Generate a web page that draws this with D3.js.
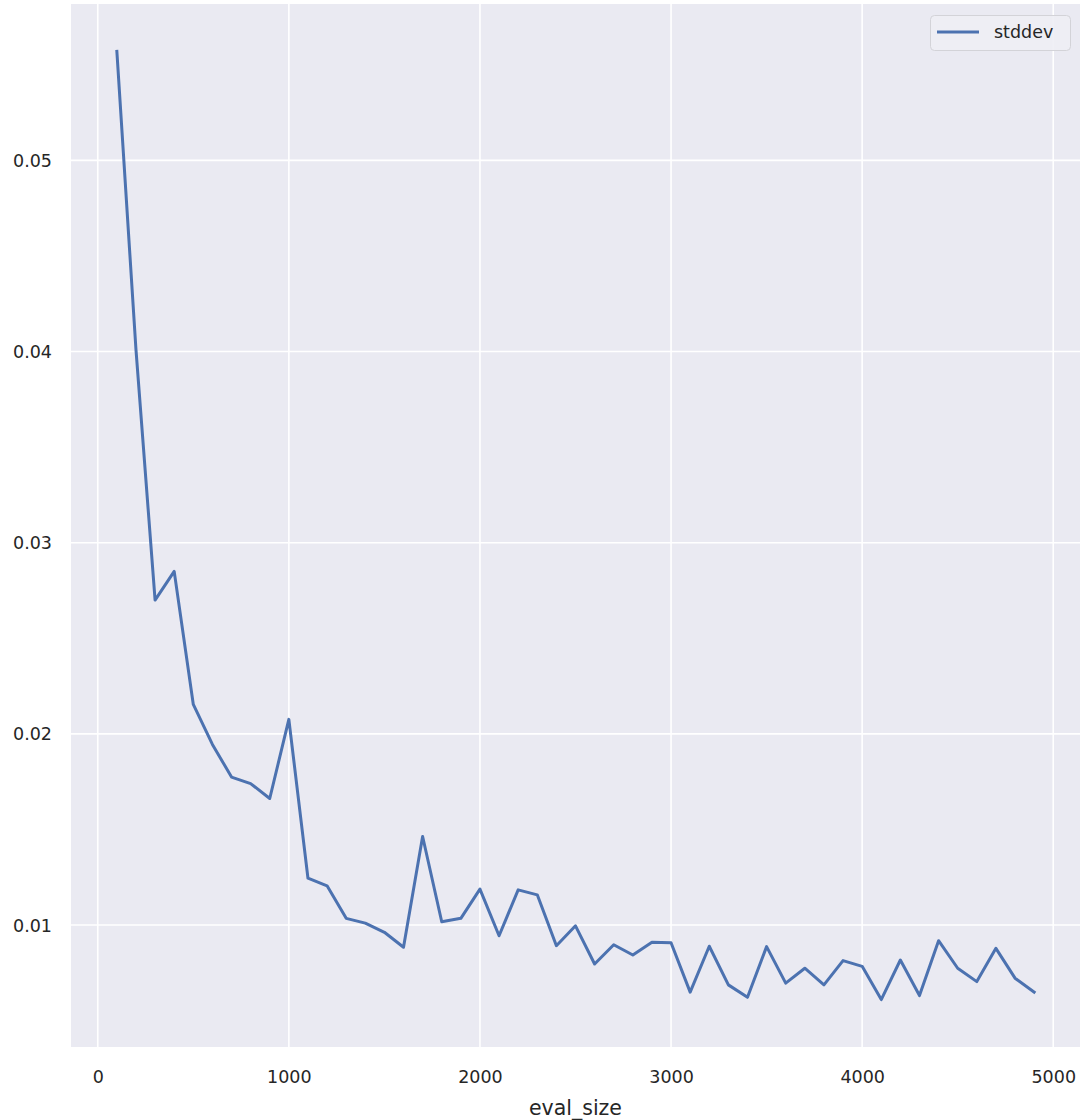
<!DOCTYPE html>
<html>
<head>
<meta charset="utf-8">
<script src="https://cdn.jsdelivr.net/npm/d3@7"></script>
<style>
  html, body { margin: 0; padding: 0; background: #ffffff; }
  svg { display: block; font-family: "DejaVu Sans", sans-serif; }
</style>
</head>
<body>
<svg id="chart" width="1081" height="1120"></svg>
<script>
const evalSize = [100,200,300,400,500,600,700,800,900,1000,
  1100,1200,1300,1400,1500,1600,1700,1800,1900,2000,
  2100,2200,2300,2400,2500,2600,2700,2800,2900,3000,
  3100,3200,3300,3400,3500,3600,3700,3800,3900,4000,
  4100,4200,4300,4400,4500,4600,4700,4800,4900];
const stddev = [0.0557,0.0401,0.0270,0.0285,0.02154,0.01945,0.01774,0.0174,0.01662,0.02076,
  0.01245,0.01205,0.01035,0.0101,0.00962,0.00884,0.01463,0.01017,0.01035,0.01188,
  0.00944,0.01184,0.01158,0.00892,0.00996,0.00796,0.00897,0.00843,0.0091,0.00907,
  0.00649,0.00889,0.00687,0.00622,0.00887,0.00696,0.00774,0.00687,0.00814,0.00784,
  0.0061,0.00817,0.00631,0.00918,0.00774,0.00704,0.00878,0.00722,0.00649];
const xTicks = [0,1000,2000,3000,4000,5000];
const yTicks = [0.01,0.02,0.03,0.04,0.05];
const seriesName = "stddev";
const xLabel = "eval_size";

const svg = d3.select("#chart");
const plot = {left: 71, right: 1080, top: 4, bottom: 1047};

// matplotlib-like 5% margins
const xmin = d3.min(evalSize), xmax = d3.max(evalSize);
const ymin = d3.min(stddev), ymax = d3.max(stddev);
const xpad = (xmax - xmin) * 0.05, ypad = (ymax - ymin) * 0.05;

const x = d3.scaleLinear().domain([xmin - xpad, xmax + xpad]).range([plot.left, plot.right]);
const y = d3.scaleLinear().domain([ymin - ypad, ymax + ypad]).range([plot.bottom, plot.top]);

svg.append("rect")
  .attr("x", plot.left).attr("y", plot.top)
  .attr("width", plot.right - plot.left).attr("height", plot.bottom - plot.top)
  .attr("fill", "#eaeaf2");

// grid
svg.append("g").selectAll("line").data(xTicks).join("line")
  .attr("x1", d => x(d)).attr("x2", d => x(d))
  .attr("y1", plot.top).attr("y2", plot.bottom)
  .attr("stroke", "#ffffff").attr("stroke-width", 1.6);
svg.append("g").selectAll("line").data(yTicks).join("line")
  .attr("x1", plot.left).attr("x2", plot.right)
  .attr("y1", d => y(d)).attr("y2", d => y(d))
  .attr("stroke", "#ffffff").attr("stroke-width", 1.6);

// axes (tick labels only, seaborn darkgrid style)
const xAxis = d3.axisBottom(x).tickValues(xTicks).tickSize(0).tickPadding(0).tickFormat(d3.format("d"));
const gx = svg.append("g").attr("transform", `translate(0,${plot.bottom})`).call(xAxis);
gx.select(".domain").remove();
gx.selectAll("text").attr("dy", null).attr("y", 36)
  .attr("font-size", 17.5).attr("font-family", "DejaVu Sans, sans-serif").attr("fill", "#262626");

const yAxis = d3.axisLeft(y).tickValues(yTicks).tickSize(0).tickPadding(0).tickFormat(d3.format(".2f"));
const gy = svg.append("g").attr("transform", `translate(${plot.left},0)`).call(yAxis);
gy.select(".domain").remove();
gy.selectAll("text").attr("x", -19).attr("dy", "0.35em")
  .attr("font-size", 17.5).attr("font-family", "DejaVu Sans, sans-serif").attr("fill", "#262626");

// line
const line = d3.line().x((d, i) => x(evalSize[i])).y(d => y(d));
svg.append("path").datum(stddev)
  .attr("d", line)
  .attr("fill", "none")
  .attr("stroke", "#4c72b0")
  .attr("stroke-width", 3)
  .attr("stroke-linejoin", "round")
  .attr("stroke-linecap", "square");

// x label
svg.append("text")
  .attr("x", (plot.left + plot.right) / 2).attr("y", 1115)
  .attr("text-anchor", "middle")
  .attr("font-size", 20.5).attr("fill", "#262626")
  .text(xLabel);

// legend
const lg = svg.append("g");
lg.append("rect")
  .attr("x", 930.5).attr("y", 15.5).attr("width", 140).attr("height", 35)
  .attr("rx", 4).attr("ry", 4)
  .attr("fill", "#eeeef4").attr("fill-opacity", 0.9)
  .attr("stroke", "#d3d3d8").attr("stroke-width", 1);
lg.append("line")
  .attr("x1", 937).attr("x2", 979).attr("y1", 32).attr("y2", 32)
  .attr("stroke", "#4c72b0").attr("stroke-width", 3);
lg.append("text")
  .attr("x", 994).attr("y", 32).attr("dy", "0.35em")
  .attr("font-size", 17.5).attr("fill", "#262626")
  .text(seriesName);
</script>
</body>
</html>
